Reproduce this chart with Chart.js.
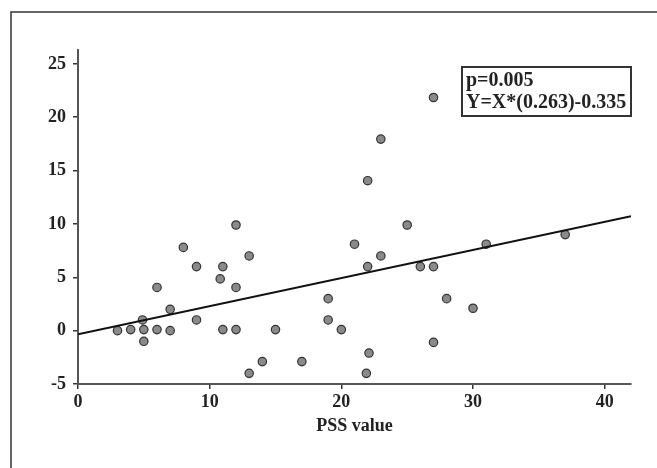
<!DOCTYPE html>
<html lang="en">
<head>
<meta charset="UTF-8">
<title>PSS value scatter</title>
<style>
  html, body { margin: 0; padding: 0; background: #fff; }
  canvas { display: block; }
</style>
</head>
<body>
<canvas id="chart" width="657" height="468"></canvas>
<script src="https://cdn.jsdelivr.net/npm/chart.js"></script>
<script>
// values
const pssValues = [3, 4, 4.9, 5, 5, 6, 6, 7, 7, 8, 9, 9, 10.8, 11, 11, 12, 12, 12, 13, 13, 14,
  15, 17, 19, 19, 20, 21, 22, 21.9, 22.1, 23, 25, 26, 27, 27, 28, 27, 23, 22, 30, 31, 37];
const yValues = [0, 0.1, 1, 0.1, -1, 4.05, 0.1, 2, 0, 7.8, 6, 1, 4.85, 6, 0.1, 9.9, 4.05, 0.1, 7, -4, -2.9,
  0.1, -2.9, 1, 3, 0.1, 8.1, 6, -4, -2.1, 7, 9.9, 6, 6, -1.1, 3, 21.85, 17.95, 14.05, 2.1, 8.1, 9];
const xTicks = [0, 10, 20, 30, 40];
const yTicks = [-5, 0, 5, 10, 15, 20, 25];
const slope = 0.263;
const intercept = -0.335;
const statLines = ['p=0.005', 'Y=X*(0.263)-0.335'];

const xMin = 0, xMax = 42, yMin = -5, yMax = 26.3;

const points = pssValues.map((x, i) => ({ x: x, y: yValues[i] }));
const fitLine = [xMin, xMax].map(x => ({ x: x, y: x * slope + intercept }));

const serif = '"Liberation Serif", "Times New Roman", serif';

// outer frame and the p / equation box
const extras = {
  id: 'extras',
  afterDraw(chart) {
    const ctx = chart.ctx;
    ctx.save();
    ctx.strokeStyle = '#333';
    ctx.lineWidth = 1.5;
    ctx.beginPath();
    ctx.moveTo(11, 468);
    ctx.lineTo(11, 12);
    ctx.lineTo(657, 12);
    ctx.stroke();

    ctx.lineWidth = 2;
    ctx.strokeRect(462, 67, 169, 49);
    ctx.fillStyle = '#222';
    ctx.font = 'bold 20px ' + serif;
    ctx.textBaseline = 'alphabetic';
    ctx.fillText(statLines[0], 466, 86);
    ctx.fillText(statLines[1], 466, 108);
    ctx.restore();
  }
};

new Chart(document.getElementById('chart'), {
  type: 'scatter',
  data: {
    datasets: [{
      type: 'line',
      data: fitLine,
      borderColor: '#111',
      borderWidth: 2,
      pointRadius: 0,
      fill: false,
      order: 0
    }, {
      data: points,
      backgroundColor: '#8a8a8a',
      borderColor: '#333',
      borderWidth: 1.2,
      pointRadius: 4.2,
      order: 1
    }]
  },
  options: {
    responsive: false,
    animation: false,
    layout: { padding: { left: 0, top: 50, right: 26, bottom: 0 } },
    plugins: { legend: { display: false }, tooltip: { enabled: false } },
    scales: {
      x: {
        type: 'linear',
        min: xMin,
        max: xMax,
        afterBuildTicks: s => { s.ticks = xTicks.map(v => ({ value: v })); },
        afterFit: s => { s.height = 84; },
        grid: { drawOnChartArea: false, drawTicks: true, tickLength: 5, color: '#333', lineWidth: 1.5 },
        border: { display: true, color: '#555', width: 2 },
        ticks: { padding: 3, color: '#222', font: { family: serif, size: 18, weight: 'bold' }, maxRotation: 0 },
        title: {
          display: true,
          text: 'PSS value',
          color: '#222',
          font: { family: serif, size: 18, weight: 'bold' },
          padding: { top: 0, bottom: 31 }
        }
      },
      y: {
        type: 'linear',
        min: yMin,
        max: yMax,
        afterBuildTicks: s => { s.ticks = yTicks.map(v => ({ value: v })); },
        afterFit: s => { s.width = 78; },
        grid: { drawOnChartArea: false, drawTicks: true, tickLength: 5, color: '#333', lineWidth: 1.5 },
        border: { display: true, color: '#555', width: 2 },
        ticks: { padding: 7, color: '#222', font: { family: serif, size: 18, weight: 'bold' } }
      }
    }
  },
  plugins: [extras]
});
</script>
</body>
</html>
